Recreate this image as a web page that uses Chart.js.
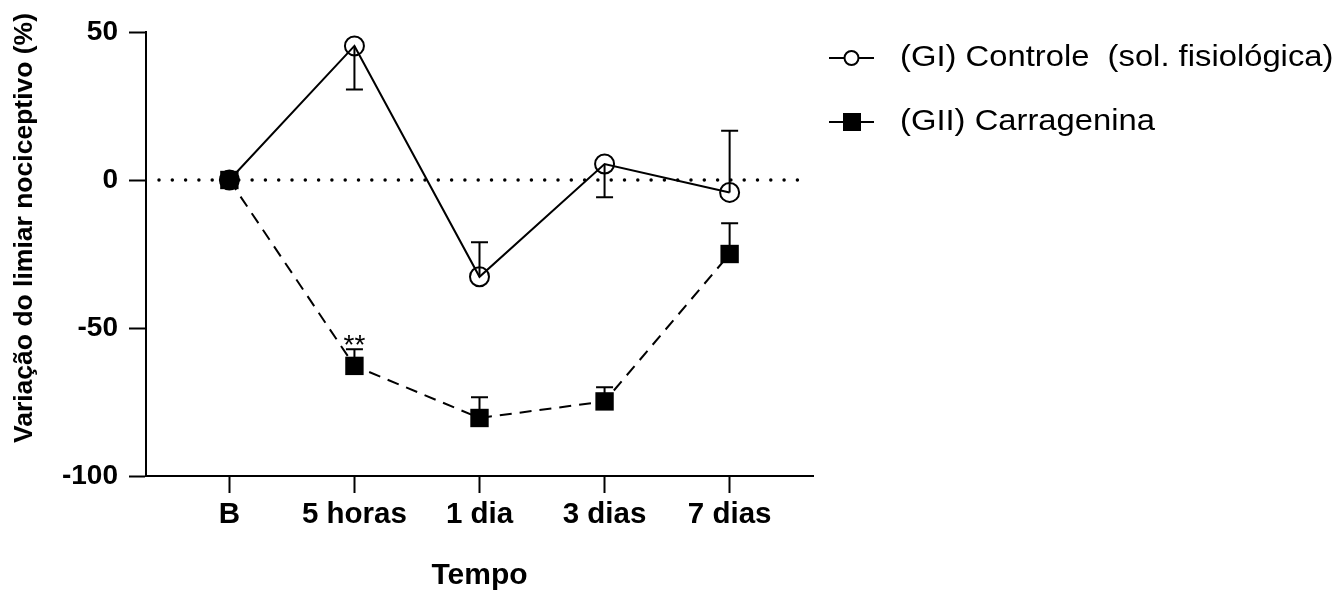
<!DOCTYPE html>
<html>
<head>
<meta charset="utf-8">
<script src="https://cdn.jsdelivr.net/npm/chart.js@4.4.0/dist/chart.umd.min.js"></script>
<style>
  html, body { margin: 0; padding: 0; background: #fff; }
</style>
</head>
<body>
<canvas id="lineChart" width="1340" height="594"></canvas>
<script>
// values (% change of nociceptive threshold)
var timeLabels = ["B", "5 horas", "1 dia", "3 dias", "7 dias"];
var controlValues = [0, 45.3, -32.7, 5.4, -4.2];
var controlErrEnds = [null, 30.6, -21.0, -5.8, 16.6];
var carraValues = [0, -62.8, -80.4, -74.8, -25.0];
var carraErrEnds = [null, -57.2, -73.4, -70.0, -14.6];
var sigMarks = ["", "**", "", "", ""];
var yTicks = [-100, -50, 0, 50];

var FONT = "'Liberation Sans', Arial, sans-serif";

function toPoints(values) {
  return values.map(function (v, i) { return { x: i, y: v }; });
}

// dotted reference line at y = 0
var zeroLine = {
  id: "zeroLine",
  beforeDatasetsDraw: function (chart) {
    var ctx = chart.ctx, a = chart.chartArea;
    var y = chart.scales.y.getPixelForValue(0);
    ctx.save();
    ctx.strokeStyle = "#000";
    ctx.lineWidth = 3.5;
    ctx.lineCap = "round";
    ctx.setLineDash([0, 13.3]);
    ctx.beginPath();
    ctx.moveTo(a.left + 13, y);
    ctx.lineTo(a.right - 13, y);
    ctx.stroke();
    ctx.restore();
  }
};

// one-sided error bars + significance marks
var errorBars = {
  id: "errorBars",
  beforeDatasetsDraw: function (chart) {
    var ctx = chart.ctx, xs = chart.scales.x, ys = chart.scales.y;
    ctx.save();
    ctx.strokeStyle = "#000";
    ctx.lineWidth = 2;
    chart.data.datasets.forEach(function (ds) {
      ds.errEnds.forEach(function (e, i) {
        if (e === null) return;
        var px = xs.getPixelForValue(i);
        var p0 = ys.getPixelForValue(ds.data[i].y);
        var p1 = ys.getPixelForValue(e);
        ctx.beginPath();
        ctx.moveTo(px, p0);
        ctx.lineTo(px, p1);
        ctx.moveTo(px - 8.5, p1);
        ctx.lineTo(px + 8.5, p1);
        ctx.stroke();
      });
    });
    ctx.restore();
  },
  afterDatasetsDraw: function (chart) {
    var ctx = chart.ctx, xs = chart.scales.x, ys = chart.scales.y;
    ctx.save();
    ctx.fillStyle = "#000";
    ctx.font = "28px " + FONT;
    ctx.textAlign = "center";
    ctx.textBaseline = "alphabetic";
    sigMarks.forEach(function (m, i) {
      if (!m) return;
      ctx.fillText(m, xs.getPixelForValue(i), ys.getPixelForValue(carraErrEnds[i]) + 5);
    });
    ctx.restore();
  }
};

// y title and legend drawn by hand to match placement
var extras = {
  id: "extras",
  afterDraw: function (chart) {
    var ctx = chart.ctx;
    ctx.save();
    ctx.fillStyle = "#000";
    ctx.font = "bold 26.5px " + FONT;
    ctx.textAlign = "center";
    ctx.textBaseline = "middle";
    ctx.translate(25, 228);
    ctx.rotate(-Math.PI / 2);
    ctx.fillText("Variação do limiar nociceptivo (%)", 0, 0);
    ctx.restore();

    var rows = [58, 122];
    chart.data.datasets.forEach(function (ds, i) {
      var y = rows[i];
      ctx.save();
      ctx.strokeStyle = "#000";
      ctx.lineWidth = 2;
      ctx.beginPath();
      ctx.moveTo(829, y);
      ctx.lineTo(874, y);
      ctx.stroke();
      if (ds.pointStyle === "circle") {
        ctx.fillStyle = "#fff";
        ctx.beginPath();
        ctx.arc(851.5, y, 7, 0, Math.PI * 2);
        ctx.fill();
        ctx.stroke();
      } else {
        ctx.fillStyle = "#000";
        ctx.fillRect(843, y - 9, 18, 18);
      }
      // the source figure is slightly stretched horizontally
      ctx.translate(900, y);
      ctx.scale(1.13, 1);
      ctx.fillStyle = "#000";
      ctx.font = "29px " + FONT;
      ctx.textAlign = "left";
      ctx.textBaseline = "middle";
      ctx.fillText(ds.label, 0, 0);
      ctx.restore();
    });
  }
};

var axisGrid = {
  display: true,
  drawOnChartArea: false,
  drawTicks: true,
  tickLength: 17,
  tickWidth: 2,
  tickColor: "#000"
};

var ctx = document.getElementById("lineChart").getContext("2d");
var myChart = new Chart(ctx, {
  type: "line",
  data: {
    datasets: [
      {
        label: "(GI) Controle  (sol. fisiológica)",
        data: toPoints(controlValues),
        errEnds: controlErrEnds,
        borderColor: "#000",
        borderWidth: 2,
        pointStyle: "circle",
        pointRadius: 9.5,
        pointBackgroundColor: "rgba(0,0,0,0)",
        pointBorderColor: "#000",
        pointBorderWidth: 2,
        order: 1
      },
      {
        label: "(GII) Carragenina",
        data: toPoints(carraValues),
        errEnds: carraErrEnds,
        borderColor: "#000",
        borderWidth: 2,
        borderDash: [12, 8],
        pointStyle: "rect",
        pointRadius: 13,
        pointBackgroundColor: "#000",
        pointBorderColor: "#000",
        pointBorderWidth: 0,
        order: 0
      }
    ]
  },
  options: {
    responsive: false,
    animation: false,
    layout: { padding: { left: 0, top: 32, right: 527, bottom: 0 } },
    plugins: {
      legend: { display: false },
      tooltip: { enabled: false }
    },
    scales: {
      x: {
        type: "linear",
        min: -2 / 3,
        max: timeLabels.length - 1 + 2 / 3,
        afterBuildTicks: function (s) {
          s.ticks = timeLabels.map(function (_, i) { return { value: i }; });
        },
        afterFit: function (s) { s.height = 118; },
        ticks: {
          callback: function (v) { return timeLabels[v]; },
          font: { family: FONT, size: 29.5, weight: "bold" },
          color: "#000",
          padding: 4,
          maxRotation: 0,
          autoSkip: false
        },
        grid: axisGrid,
        border: { display: true, color: "#000", width: 2 },
        title: {
          display: true,
          text: "Tempo",
          font: { family: FONT, size: 30, weight: "bold" },
          color: "#000",
          padding: { top: 0, bottom: 0 }
        }
      },
      y: {
        min: -100,
        max: 50,
        afterBuildTicks: function (s) {
          s.ticks = yTicks.map(function (v) { return { value: v }; });
        },
        afterFit: function (s) { s.width = 146; },
        ticks: {
          font: { family: FONT, size: 28, weight: "bold" },
          color: "#000",
          padding: 11
        },
        grid: axisGrid,
        border: { display: true, color: "#000", width: 2 }
      }
    }
  },
  plugins: [zeroLine, errorBars, extras]
});
</script>
</body>
</html>
